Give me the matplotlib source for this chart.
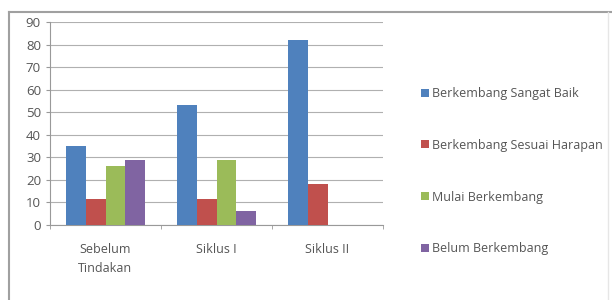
import matplotlib
matplotlib.use("Agg")
import matplotlib.pyplot as plt
import numpy as np
from matplotlib.lines import Line2D

categories = ["Sebelum\nTindakan", "Siklus I", "Siklus II"]
series = ["Berkembang Sangat Baik", "Berkembang Sesuai Harapan",
          "Mulai Berkembang", "Belum Berkembang"]
sangat_baik = [35, 53, 82]
sesuai_harapan = [11.5, 11.5, 18]
mulai = [26, 29, 0]
belum = [29, 6, 0]
colors = ["#4F81BD", "#C0504D", "#9BBB59", "#8064A2"]

plt.rcParams["font.family"] = ["Open Sans", "DejaVu Sans"]

W, H = 612, 300
fig = plt.figure(figsize=(W / 100, H / 100), dpi=100)

# outer chart frame
fig.add_artist(Line2D([9 / W, 9 / W], [0, 1 - 12 / H], color="#a0a0a0", lw=1.5))
fig.add_artist(Line2D([9 / W, 1], [1 - 12 / H, 1 - 12 / H], color="#a0a0a0", lw=1.5))
fig.add_artist(Line2D([608 / W, 608 / W], [0, 1 - 12 / H], color="#e6e6e6", lw=1))

ax = fig.add_axes([50 / W, 75 / H, 333 / W, 203 / H])

x = np.arange(len(categories))
width = 0.18
data = [sangat_baik, sesuai_harapan, mulai, belum]
for i, (vals, name, c) in enumerate(zip(data, series, colors)):
    ax.bar(x + (i - 1.5) * width, vals, width, color=c, label=name, zorder=3)

ax.set_xlim(-0.5, len(categories) - 0.5)
ax.set_ylim(0, 90)
ax.set_yticks(range(0, 91, 10))
ax.yaxis.grid(True, color="#b0b0b0", lw=0.8, zorder=0)
ax.set_xticks(x)
ax.set_xticklabels(categories, fontsize=9, color="#555555", linespacing=1.55)
ax.set_xticks(np.arange(-0.5, len(categories), 1.0), minor=True)
ax.tick_params(axis="x", which="major", length=0, pad=13)
ax.tick_params(axis="x", which="minor", length=3, color="#999999")
ax.tick_params(axis="y", length=3, color="#999999", labelsize=9.5, labelcolor="#555555")
for s in ["top", "right"]:
    ax.spines[s].set_visible(False)
ax.spines["left"].set_color("#999999")
ax.spines["bottom"].set_color("#999999")

fig.legend(loc="upper left", bbox_to_anchor=(416 / W, 1 - 82 / H),
           frameon=False, fontsize=9, handlelength=0.6, handleheight=0.6,
           handletextpad=0.3, labelspacing=3.1, borderaxespad=0,
           labelcolor="#555555")

fig.savefig("out.png", dpi=100, facecolor="white")
